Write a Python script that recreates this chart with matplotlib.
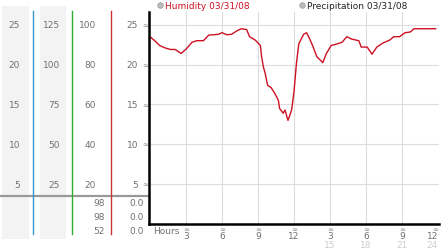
import matplotlib
matplotlib.use('Agg')
import matplotlib.pyplot as plt
import matplotlib.transforms as mtransforms
from matplotlib.patches import Rectangle
from matplotlib.lines import Line2D

# humidity readings for 03/31/08 (hour of day, value on 0-25 scale)
hours = [0.0, 0.4, 0.8, 1.25, 1.7, 2.1, 2.6, 3.05, 3.5, 3.9, 4.45, 4.9, 5.7, 6.0,
         6.4, 6.8, 7.2, 7.6, 8.05, 8.3, 8.75, 9.2, 9.3, 9.45, 9.6, 9.8, 10.1,
         10.4, 10.7, 10.8, 11.1, 11.25, 11.5, 11.8, 12.0, 12.2, 12.4, 12.8,
         13.05, 13.3, 13.6, 13.9, 14.4, 14.7, 15.1, 15.6, 16.0, 16.4, 16.8,
         17.4, 17.6, 18.1, 18.5, 18.9, 19.4, 20.0, 20.3, 20.8, 21.25, 21.7,
         22.0, 22.8, 23.8]
humidity = [23.5, 23.0, 22.4, 22.1, 21.9, 21.9, 21.4, 22.0, 22.8, 23.0, 23.0, 23.7,
            23.8, 24.0, 23.75, 23.8, 24.2, 24.5, 24.4, 23.5, 23.1, 22.4, 21.0,
            19.7, 18.9, 17.4, 17.1, 16.4, 15.5, 14.5, 13.9, 14.3, 13.0, 14.3,
            16.6, 20.1, 22.6, 23.8, 24.0, 23.25, 22.2, 21.0, 20.25, 21.4, 22.4,
            22.6, 22.8, 23.5, 23.2, 23.0, 22.2, 22.2, 21.3, 22.2, 22.7, 23.1,
            23.5, 23.5, 24.0, 24.1, 24.5, 24.5, 24.5]

y_ticks = [5, 10, 15, 20, 25]
col1_labels = ['5', '10', '15', '20', '25']
col2_labels = ['25', '50', '75', '100', '125']
col3_labels = ['20', '40', '60', '80', '100']
col4_labels = ['5', '10', '15', '20', '25']
col3_extra = ['98', '98', '52']
col4_extra = ['0.0', '0.0', '0.0']
x_ticks = [3, 6, 9, 12, 15, 18, 21, 24]
x_labels = ['3', '6', '9', '12', '3', '6', '9', '12']
x_labels2 = ['', '', '', '', '15', '18', '21', '24']

W, H = 442, 253
fig = plt.figure(figsize=(W / 100, H / 100), dpi=100)
plt.rcParams['font.family'] = ['DejaVu Sans']
fs = 6.5
grey_txt = '#707070'
red = '#cc1122'


def px(x0, y0, x1, y1):
    return [x0 / W, 1 - y1 / H, (x1 - x0) / W, (y1 - y0) / H]


ax = fig.add_axes(px(149, 13, 439, 225))
ax.set_xlim(-0.08, 24.08)
ax.set_ylim(0, 26.6)
ax.plot(hours, humidity, color=red, lw=1.0)
for t in y_ticks:
    ax.axhline(t, color='#dddddd', lw=0.8, zorder=0)
for t in x_ticks[:-1]:
    ax.axvline(t, color='#dddddd', lw=0.8, zorder=0)
ax.set_xticks([])
ax.set_yticks([])
for s in ['top', 'right']:
    ax.spines[s].set_visible(False)
ax.spines['left'].set_linewidth(1.8)
ax.spines['bottom'].set_linewidth(1.8)

# left side panel drawn in figure pixels, rows follow the main y scale
bg = fig.add_axes([0, 0, 1, 1], zorder=-1)
bg.set_xlim(0, W)
bg.set_ylim(H, 0)
bg.axis('off')
bg.add_patch(Rectangle((2, 7), 27, 233, color='#f3f3f3', lw=0))
bg.add_patch(Rectangle((40, 7), 26, 233, color='#f3f3f3', lw=0))
bg.add_line(Line2D([0, 149], [197, 197], color='#999999', lw=1.6))
for xv, c in [(33, '#3399cc'), (72, '#33aa33'), (111, '#cc3333')]:
    bg.add_line(Line2D([xv, xv], [12, 235], color=c, lw=1.0))

tr = mtransforms.blended_transform_factory(bg.transData, ax.transData)
for i, t in enumerate(y_ticks):
    fig.text(20, t, col1_labels[i], transform=tr, ha='right', va='center', fontsize=fs, color=grey_txt)
    fig.text(60, t, col2_labels[i], transform=tr, ha='right', va='center', fontsize=fs, color=grey_txt)
    fig.text(96, t, col3_labels[i], transform=tr, ha='right', va='center', fontsize=fs, color=grey_txt)
    fig.text(138, t, col4_labels[i], transform=tr, ha='right', va='center', fontsize=fs, color=grey_txt)
    fig.text(145.5, t, '\u2248', transform=tr, ha='center', va='center', fontsize=5, color='#888888')

for i, (a, b) in enumerate(zip(col3_extra, col4_extra)):
    yy = 204 + i * 14
    bg.text(105, yy, a, ha='right', va='center', fontsize=fs, color=grey_txt)
    bg.text(144, yy, b, ha='right', va='center', fontsize=fs, color=grey_txt)

# x tick labels under the axis (last one pulled inside the edge)
trx = mtransforms.blended_transform_factory(ax.transData, bg.transData)
for t, l1, l2 in zip(x_ticks, x_labels, x_labels2):
    ha = 'right' if t == x_ticks[-1] else 'center'
    fig.text(t, 230, '\u2248', transform=trx, ha=ha, va='center', fontsize=5, color='#888888')
    fig.text(t, 237, l1, transform=trx, ha=ha, va='center', fontsize=fs, color=grey_txt)
    if l2:
        fig.text(t, 246, l2, transform=trx, ha=ha, va='center', fontsize=fs, color='#cccccc')
bg.text(153, 232, 'Hours', ha='left', va='center', fontsize=fs, color=grey_txt)

# legend
bg.plot([160], [6], 'o', ms=4, mfc='#bbbbbb', mec='#999999', mew=0.5)
bg.text(165, 6, 'Humidity 03/31/08', ha='left', va='center', fontsize=fs, color=red)
bg.plot([302], [6], 'o', ms=4, mfc='#bbbbbb', mec='#999999', mew=0.5)
bg.text(307, 6, 'Precipitation 03/31/08', ha='left', va='center', fontsize=fs, color='#222222')

fig.savefig('out.png', dpi=100)
